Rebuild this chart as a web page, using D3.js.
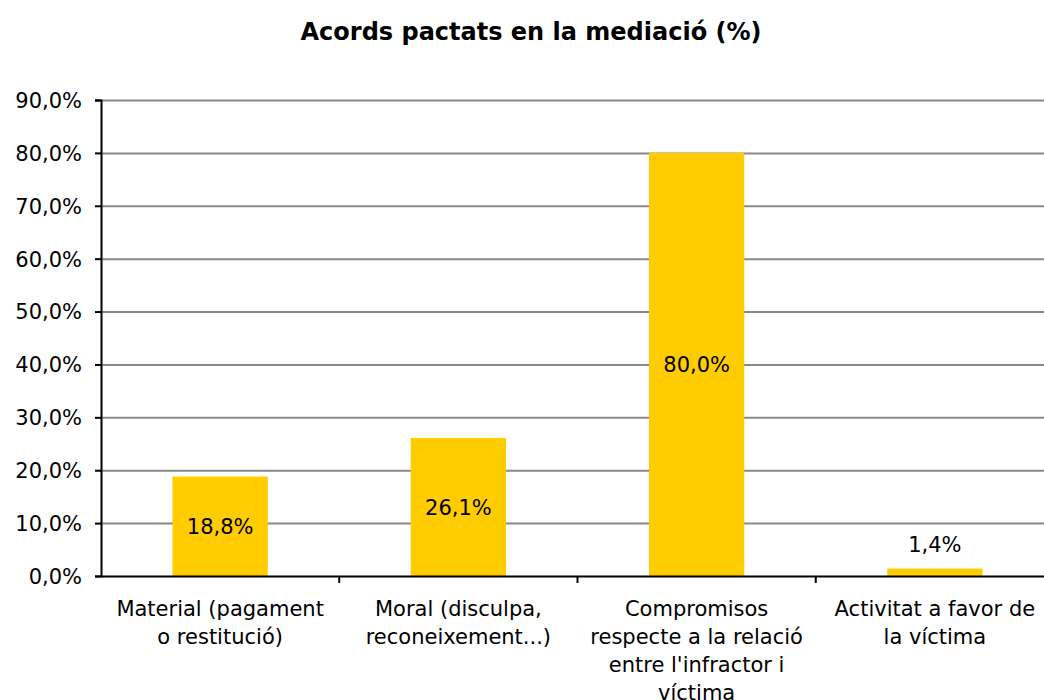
<!DOCTYPE html>
<html>
<head>
<meta charset="UTF-8">
<script src="https://cdn.jsdelivr.net/npm/d3@7"></script>
<style>
  body { margin: 0; background: #fff; }
  text { font-family: "DejaVu Sans", Verdana, sans-serif; fill: #000; }
  .grid line { stroke: #888; stroke-width: 2; }
  .grid path { display: none; }
  .axis path, .axis line { stroke: #000; stroke-width: 2; }
</style>
</head>
<body>
<div id="chart"></div>
<script>
// data
var categories = [
  "Material (pagament o restitució)",
  "Moral (disculpa, reconeixement...)",
  "Compromisos respecte a la relació entre l'infractor i víctima",
  "Activitat a favor de la víctima"
];
var values = [18.8, 26.1, 80.0, 1.4];
var yTicks = [0, 10, 20, 30, 40, 50, 60, 70, 80, 90];
var title = "Acords pactats en la mediació (%)";

var width = 1044, height = 700;
var margin = { top: 100, right: -10, bottom: 124, left: 101 },
    w = width - margin.left - margin.right,
    h = height - margin.top - margin.bottom;

var fmt = function (d) { return d.toFixed(1).replace(".", ",") + "%"; };

var svg = d3.select("#chart").append("svg")
    .attr("width", width)
    .attr("height", height);

svg.append("text")
    .attr("x", 531)
    .attr("y", 40)
    .attr("text-anchor", "middle")
    .style("font-size", "24px")
    .style("font-weight", "bold")
    .text(title);

var g = svg.append("g")
    .attr("transform", "translate(" + margin.left + "," + margin.top + ")");

var x = d3.scaleBand().domain(categories).range([0, w]).paddingInner(0.6).paddingOuter(0.3);
var xTick = d3.scaleBand().domain(categories).range([0, w]);
var y = d3.scaleLinear().domain([0, 90]).range([h, 0]);

// gridlines
g.append("g")
    .attr("class", "grid")
    .call(d3.axisLeft(y).tickValues(yTicks.slice(1)).tickSize(-w).tickFormat(""));

// bars
g.selectAll(".bar")
    .data(values)
    .enter().append("rect")
    .attr("class", "bar")
    .attr("x", function (d, i) { return x(categories[i]); })
    .attr("width", x.bandwidth())
    .attr("y", function (d) { return y(d); })
    .attr("height", function (d) { return h - y(d); })
    .attr("fill", "#ffcc00");

// value labels
g.selectAll(".val")
    .data(values)
    .enter().append("text")
    .attr("class", "val")
    .attr("x", function (d, i) { return x(categories[i]) + x.bandwidth() / 2; })
    .attr("y", function (d) { return d < 5 ? y(d) - 17 : (y(d) + h) / 2 + 8; })
    .attr("text-anchor", "middle")
    .style("font-size", "21px")
    .text(fmt);

// y axis
var yAxis = g.append("g")
    .attr("class", "axis")
    .call(d3.axisLeft(y).tickValues(yTicks).tickSize(6).tickPadding(13).tickFormat(fmt));
yAxis.selectAll("text").style("font-size", "21px").attr("dy", "0.35em");

// x axis
var xAxis = g.append("g")
    .attr("class", "axis")
    .attr("transform", "translate(0," + h + ")")
    .call(d3.axisBottom(xTick).tickSize(0).tickFormat(""));
xAxis.selectAll(".cat-tick")
    .data(categories.slice(1))
    .enter().append("line")
    .attr("x1", function (d) { return xTick(d); })
    .attr("x2", function (d) { return xTick(d); })
    .attr("y1", 0)
    .attr("y2", 7);

// category labels, wrapped
var labels = xAxis.selectAll(".cat")
    .data(categories)
    .enter().append("text")
    .attr("class", "cat")
    .attr("x", function (d) { return xTick(d) + xTick.bandwidth() / 2; })
    .attr("y", 40)
    .attr("text-anchor", "middle")
    .style("font-size", "21px")
    .text(function (d) { return d; });

labels.each(function () {
    var t = d3.select(this), words = t.text().split(" "), line = [];
    var cx = t.attr("x");
    var ts = t.text(null).append("tspan").attr("x", cx).attr("dy", 0);
    words.forEach(function (wd) {
        line.push(wd);
        ts.text(line.join(" "));
        if (ts.node().getComputedTextLength() > 222 && line.length > 1) {
            line.pop();
            ts.text(line.join(" "));
            line = [wd];
            ts = t.append("tspan").attr("x", cx).attr("dy", "28px").text(wd);
        }
    });
});
</script>
</body>
</html>
